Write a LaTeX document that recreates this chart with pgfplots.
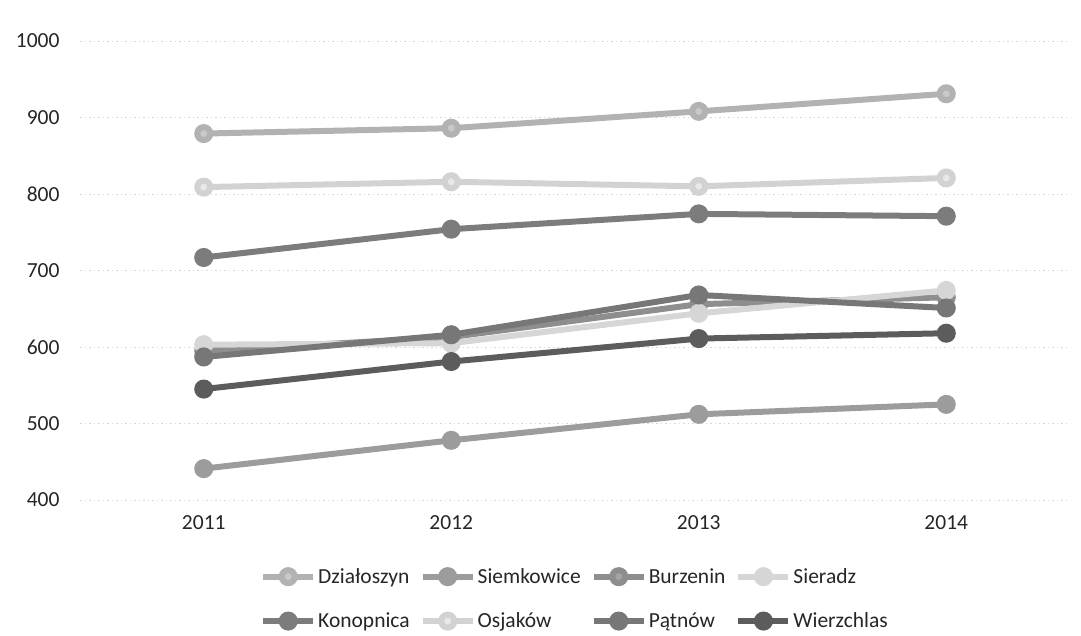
\documentclass[border=0pt]{standalone}
\usepackage{fontspec}
\setmainfont{Carlito}
\usepackage{pgfplots}
\pgfplotsset{compat=1.18}
\definecolor{cDz}{HTML}{B2B2B2}
\definecolor{cSi}{HTML}{9C9C9C}
\definecolor{cBu}{HTML}{8E8E8E}
\definecolor{cSr}{HTML}{D6D6D6}
\definecolor{cKo}{HTML}{7C7C7C}
\definecolor{cOs}{HTML}{D2D2D2}
\definecolor{cPa}{HTML}{777777}
\definecolor{cWi}{HTML}{5C5C5C}
\definecolor{txt}{HTML}{262626}
\begin{document}
\begin{tikzpicture}
\path (0,0) rectangle (1081bp,636bp);
\begin{axis}[
  at={(80bp,136bp)}, anchor=south west,
  scale only axis, width=990bp, height=459bp,
  xmin=-0.5, xmax=3.5, ymin=400, ymax=1000,
  xtick={0,1,2,3}, xticklabels={2011,2012,2013,2014},
  ytick={400,500,...,1000},
  axis line style={draw=none},
  major tick length=0pt,
  ymajorgrids,
  grid style={draw=black!16, line width=0.8bp, dash pattern=on 1.5bp off 3bp},
  /pgf/number format/assume math mode=true,
  /pgf/number format/1000 sep={},
  tick label style={font=\fontsize{21.5bp}{25bp}\selectfont, text=txt},
  yticklabel style={xshift=-17bp},
  xticklabel style={yshift=-12bp},
  every axis plot/.append style={line width=6bp, mark=*, mark size=6.5bp},
  legend columns=4,
  legend cell align=left,
  legend style={at={(0.5,-0.14)}, anchor=north, draw=none,
    font=\fontsize{21.5bp}{25bp}\selectfont, text=txt,
    /tikz/every even column/.append style={column sep=8bp},
    row sep=24bp},
  legend image code/.code={\draw[mark repeat=2,mark phase=2] plot coordinates {(0bp,0bp) (25bp,0bp) (50bp,0bp)};},
]
\addplot[color=cDz, mark options={fill=cDz!70!white}] coordinates {(0,879) (1,886) (2,908) (3,931)};
\addlegendentry{Działoszyn}
\addplot[color=cSi, mark options={fill=cSi}] coordinates {(0,441) (1,478) (2,512) (3,525)};
\addlegendentry{Siemkowice}
\addplot[color=cBu, mark options={fill=cBu!80!white}] coordinates {(0,595) (1,613) (2,656) (3,665)};
\addlegendentry{Burzenin}
\addplot[color=cSr, mark options={fill=cSr}] coordinates {(0,603) (1,605) (2,644) (3,674)};
\addlegendentry{Sieradz}
\addplot[color=cKo, mark options={fill=cKo}] coordinates {(0,717) (1,754) (2,774) (3,771)};
\addlegendentry{Konopnica}
\addplot[color=cOs, mark options={fill=cOs!50!white}] coordinates {(0,809) (1,816) (2,810) (3,821)};
\addlegendentry{Osjaków}
\addplot[color=cPa, mark options={fill=cPa}] coordinates {(0,587) (1,616) (2,668) (3,651)};
\addlegendentry{Pątnów}
\addplot[color=cWi, mark options={fill=cWi}] coordinates {(0,545) (1,581) (2,611) (3,618)};
\addlegendentry{Wierzchlas}
\end{axis}
\end{tikzpicture}
\end{document}
